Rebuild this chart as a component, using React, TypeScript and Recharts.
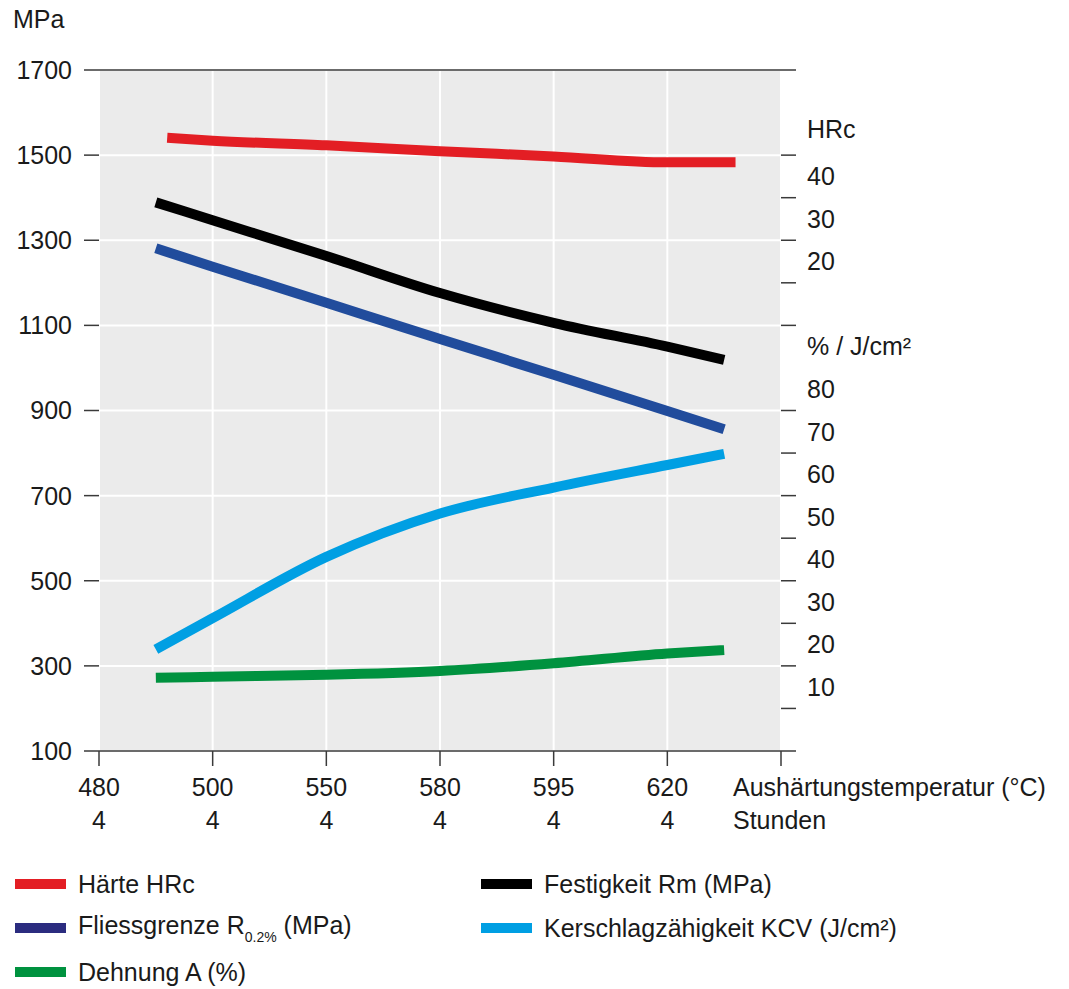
import * as React from "react";
import {
  LineChart,
  Line,
  XAxis,
  YAxis,
  CartesianGrid,
  ReferenceLine,
} from "recharts";

// x axis: heat treatment steps (temperature °C / hours)
const temps = ["480", "500", "550", "580", "595", "620"];
const hours = ["4", "4", "4", "4", "4", "4"];
const xTicks = [0, 1, 2, 3, 4, 5, 6];

// sample positions along the x axis (index units)
const xPos = [0.5, 1, 2, 3, 4, 5, 5.5];
const xPosRed = [0.6, 1, 2, 3, 4, 5, 5.6];

// series values
const haerteHRc = [44.1, 43.4, 42.3, 40.9, 39.7, 38.3, 38.3];
const festigkeitRm = [1389, 1347, 1263, 1176, 1106, 1050, 1019];
const fliessgrenze = [1281, 1238, 1153, 1068, 984, 899, 856];
const kerbschlagKCV = [13.9, 21.2, 35.6, 45.8, 51.9, 57.2, 59.8];
const dehnungA = [7.2, 7.45, 7.9, 8.8, 10.6, 12.9, 13.7];

// axis ticks
const mpaTicks = [100, 300, 500, 700, 900, 1100, 1300, 1500, 1700];
const rightTicks = [-10, 0, 10, 20, 30, 40, 50, 60, 70, 80, 90, 100, 110, 120, 130, 150];
// label written below each right tick (pct scale; upper part carries HRc)
const rightLabels: Record<number, string> = {
  10: "10",
  20: "20",
  30: "30",
  40: "40",
  50: "50",
  60: "60",
  70: "70",
  80: "80",
  90: "% / J/cm²",
  110: "20",
  120: "30",
  130: "40",
};

const FONT = "'Liberation Sans', Arial, Helvetica, sans-serif";
const INK = "#1a1a1a";
const AXIS = "#3a3a3a";

const rows = (xs: number[], ys: number[]) => xs.map((x, i) => ({ x, v: ys[i] }));

function XTick(props: any) {
  const { x, y, payload } = props;
  const i = payload.value as number;
  if (i >= temps.length) {
    return (
      <g>
        <text x={x - 48} y={y + 30} textAnchor="start" fontSize={25} fill={INK} fontFamily={FONT}>
          Aushärtungstemperatur (°C)
        </text>
        <text x={x - 48} y={y + 63} textAnchor="start" fontSize={25} fill={INK} fontFamily={FONT}>
          Stunden
        </text>
      </g>
    );
  }
  return (
    <g>
      <text x={x} y={y + 30} textAnchor="middle" fontSize={25} fill={INK} fontFamily={FONT}>
        {temps[i]}
      </text>
      <text x={x} y={y + 63} textAnchor="middle" fontSize={25} fill={INK} fontFamily={FONT}>
        {hours[i]}
      </text>
    </g>
  );
}

function RightTick(props: any) {
  const { x, y, payload } = props;
  const v = payload.value as number;
  const label = rightLabels[v];
  return (
    <g>
      {v !== 80 && <line x1={x} x2={x + 15} y1={y} y2={y} stroke={AXIS} strokeWidth={1.5} />}
      {label && (
        <text x={x + 26} y={y + 30} textAnchor="start" fontSize={25} fill={INK} fontFamily={FONT}>
          {label}
        </text>
      )}
      {v === 130 && (
        <text x={x + 26} y={y - 17} textAnchor="start" fontSize={25} fill={INK} fontFamily={FONT}>
          HRc
        </text>
      )}
    </g>
  );
}

function LegendItem({ color, children }: { color: string; children: React.ReactNode }) {
  return (
    <div style={{ display: "flex", alignItems: "center", height: 44 }}>
      <div style={{ width: 51, height: 10, background: color, marginRight: 12 }} />
      <span style={{ fontSize: 25, color: INK, fontFamily: FONT, whiteSpace: "nowrap" }}>{children}</span>
    </div>
  );
}

export default function App() {
  return (
    <div style={{ position: "absolute", left: 0, top: 0, width: 1069, height: 989, background: "#fff" }}>
      <div
        style={{ position: "absolute", left: 13, top: 5, fontSize: 25, color: INK, fontFamily: FONT }}
      >
        MPa
      </div>
      <LineChart width={1069} height={860} margin={{ top: 70, right: 0, bottom: 0, left: 0 }}>
        <CartesianGrid yAxisId="mpa" fill="#ebebeb" stroke="#ffffff" strokeWidth={2} />
        <XAxis
          type="number"
          dataKey="x"
          domain={[0, 6]}
          ticks={xTicks}
          interval={0}
          height={109}
          tickSize={15}
          tickMargin={0}
          axisLine={{ stroke: AXIS, strokeWidth: 1.5 }}
          tickLine={{ stroke: AXIS, strokeWidth: 1.5 }}
          tick={<XTick />}
        />
        <YAxis
          yAxisId="mpa"
          domain={[100, 1700]}
          ticks={mpaTicks}
          interval={0}
          width={99}
          tickSize={15}
          tickMargin={12}
          axisLine={false}
          tickLine={{ stroke: AXIS, strokeWidth: 1.5 }}
          tick={{ fontSize: 25, fill: INK, fontFamily: FONT }}
        />
        <YAxis
          yAxisId="pct"
          orientation="right"
          domain={[-10, 150]}
          ticks={rightTicks}
          interval={0}
          width={288}
          tickSize={0}
          tickMargin={0}
          axisLine={false}
          tickLine={false}
          tick={<RightTick />}
        />
        <YAxis yAxisId="hrc" orientation="right" hide width={0} domain={[-100, 60]} />
        <ReferenceLine yAxisId="mpa" y={1700} stroke={AXIS} strokeWidth={1.5} />
        <Line
          yAxisId="pct"
          data={rows(xPos, dehnungA)}
          dataKey="v"
          type="monotone"
          stroke="#00923f"
          strokeWidth={10}
          dot={false}
          activeDot={false}
          isAnimationActive={false}
        />
        <Line
          yAxisId="pct"
          data={rows(xPos, kerbschlagKCV)}
          dataKey="v"
          type="monotone"
          stroke="#009fe3"
          strokeWidth={10}
          dot={false}
          activeDot={false}
          isAnimationActive={false}
        />
        <Line
          yAxisId="mpa"
          data={rows(xPos, fliessgrenze)}
          dataKey="v"
          type="monotone"
          stroke="#214c9c"
          strokeWidth={10}
          dot={false}
          activeDot={false}
          isAnimationActive={false}
        />
        <Line
          yAxisId="mpa"
          data={rows(xPos, festigkeitRm)}
          dataKey="v"
          type="monotone"
          stroke="#000000"
          strokeWidth={10}
          dot={false}
          activeDot={false}
          isAnimationActive={false}
        />
        <Line
          yAxisId="hrc"
          data={rows(xPosRed, haerteHRc)}
          dataKey="v"
          type="monotone"
          stroke="#e31e24"
          strokeWidth={10}
          dot={false}
          activeDot={false}
          isAnimationActive={false}
        />
      </LineChart>
      <div
        style={{
          position: "absolute",
          left: 15,
          top: 862,
          display: "grid",
          gridTemplateColumns: "466px auto",
        }}
      >
        <LegendItem color="#e31e24">Härte HRc</LegendItem>
        <LegendItem color="#000000">Festigkeit Rm (MPa)</LegendItem>
        <LegendItem color="#2b2c7f">
          Fliessgrenze R
          <sub style={{ fontSize: 14, verticalAlign: "-8px" }}>0.2%</sub> (MPa)
        </LegendItem>
        <LegendItem color="#009fe3">
          Kerschlagzähigkeit KCV (J/cm²)
        </LegendItem>
        <LegendItem color="#00923f">Dehnung A (%)</LegendItem>
      </div>
    </div>
  );
}
